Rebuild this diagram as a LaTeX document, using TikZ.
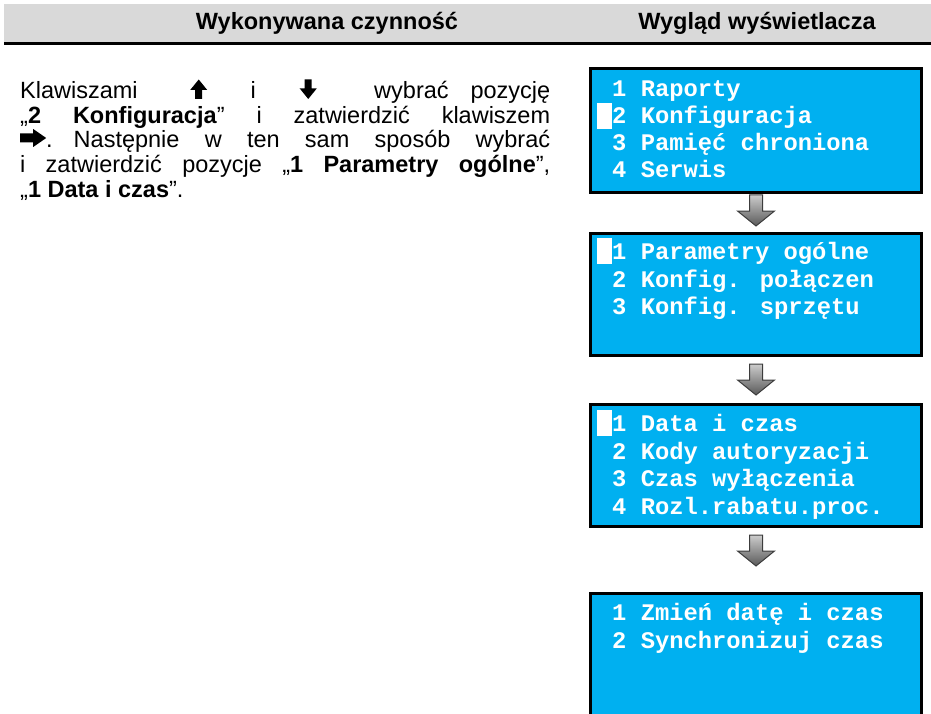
\documentclass[tikz,border=0pt]{standalone}
\usepackage{fontspec}
\setmainfont{Liberation Sans}
\newfontfamily\lcdfont{Liberation Mono}
\usetikzlibrary{calc}
\definecolor{lcdblue}{RGB}{0,176,240}
\definecolor{headgray}{RGB}{217,217,217}
\definecolor{arrowedge}{RGB}{60,60,60}
\newcommand{\keyup}{\tikz[baseline=0pt,x=1pt,y=1pt]\fill[black] (-3.5,0) -- (3.5,0) -- (3.5,9) -- (8.5,9) -- (0,19.5) -- (-8.5,9) -- (-3.5,9) -- cycle;}
\newcommand{\keydown}{\tikz[baseline=0pt,x=1pt,y=1pt]\fill[black] (-3.5,19.5) -- (3.5,19.5) -- (3.5,10.5) -- (8.5,10.5) -- (0,0) -- (-8.5,10.5) -- (-3.5,10.5) -- cycle;}
\newcommand{\keyright}{\tikz[baseline=-1pt,x=1pt,y=1pt]\fill[black] (0,4.5) -- (13,4.5) -- (13,0) -- (26,9) -- (13,18) -- (13,13.5) -- (0,13.5) -- cycle;}
\begin{document}
\begin{tikzpicture}[x=1pt,y=-1pt,
  screen/.style={draw=black, line width=3pt, fill=lcdblue, anchor=north west, inner sep=0pt, outer sep=0pt, minimum width=331pt},
  lcd/.style={font=\lcdfont\bfseries\fontsize{23.8}{27}\selectfont, text=white, anchor=base west, inner sep=0pt},
  para/.style={font=\fontsize{23.5}{27}\selectfont, anchor=base west, inner sep=0pt},
  head/.style={font=\bfseries\fontsize{23.5}{27}\selectfont, inner sep=0pt},
  cursorbox/.style={fill=white, draw=none},
  blockarrow/.style={draw=arrowedge, line width=1pt, top color=gray!40, bottom color=gray!70!black, line join=miter},
  pics/downarrow/.style={code={\path[blockarrow] (-6.5,0) -- (6.5,0) -- (6.5,16) -- (18.5,16) -- (0,31) -- (-18.5,16) -- (-6.5,16) -- cycle;}}
]
\useasboundingbox (0,0) rectangle (931,714);
\clip (0,0) rectangle (931,714);
% header
\fill[headgray] (4,4) rectangle (931,42);
\draw[line width=3pt] (4,43.5) -- (931,43.5);
\node[head] (h1) at (327,23) {Wykonywana czynność};
\node[head] (h2) at (757,23) {Wygląd wyświetlacza};
% paragraph
\node[para] (p1) at (20,99) {\makebox[530pt][l]{Klawiszami\hspace{52.5pt}\keyup\hspace{43.4pt}i\hspace{43.9pt}\keydown\hspace{57.5pt}wybrać\hfill pozycję}};
\node[para] (p2) at (20,123.5) {\makebox[530pt][s]{„\textbf{2 Konfiguracja}” i zatwierdzić klawiszem}};
\node[para] (p3) at (20,148) {\makebox[530pt][s]{\keyright.\hspace{21pt}Następnie w ten sam sposób wybrać}};
\node[para] (p4) at (20,172.5) {\makebox[530pt][s]{i zatwierdzić pozycje „\textbf{1 Parametry ogólne}”,}};
\node[para] (p5) at (20,197) {„\textbf{1 Data i czas}”.};
% screens
\node[screen, minimum height=124pt] (s1) at (590.5,68.5) {};
\node[screen, minimum height=122pt] (s2) at (590.5,233.5) {};
\node[screen, minimum height=122pt] (s3) at (590.5,404.5) {};
\node[screen, minimum height=160pt] (s4) at (590.5,593.5) {};
% arrows
\pic at ($(s1.south)+(0,2.5)$) {downarrow};
\pic at ($(s2.south)+(0,8.5)$) {downarrow};
\pic at ($(s3.south)+(0,8.5)$) {downarrow};
% screen 1
\fill[cursorbox] (597,103) rectangle (612,129);
\node[lcd] (s1a) at (612,97) {1 Raporty};
\node[lcd] (s1b) at (612,124) {2 Konfiguracja};
\node[lcd] (s1c) at (612,151) {3 Pamięć chroniona};
\node[lcd] (s1d) at (612,178) {4 Serwis};
% screen 2
\fill[cursorbox] (597,238) rectangle (612,264);
\node[lcd] (s2a) at (612,259) {1 Parametry ogólne};
\node[lcd] (s2b) at (612,287) {2 Konfig. połączen};
\node[lcd] (s2c) at (612,314) {3 Konfig. sprzętu};
% screen 3
\fill[cursorbox] (597,410) rectangle (612,436);
\node[lcd] (s3a) at (612,431) {1 Data i czas};
\node[lcd] (s3b) at (612,459) {2 Kody autoryzacji};
\node[lcd] (s3c) at (612,486) {3 Czas wyłączenia};
\node[lcd] (s3d) at (612,514) {4 Rozl.rabatu.proc.};
% screen 4
\node[lcd] (s4a) at (612,620) {1 Zmień datę i czas};
\node[lcd] (s4b) at (612,648) {2 Synchronizuj czas};
\end{tikzpicture}
\end{document}
